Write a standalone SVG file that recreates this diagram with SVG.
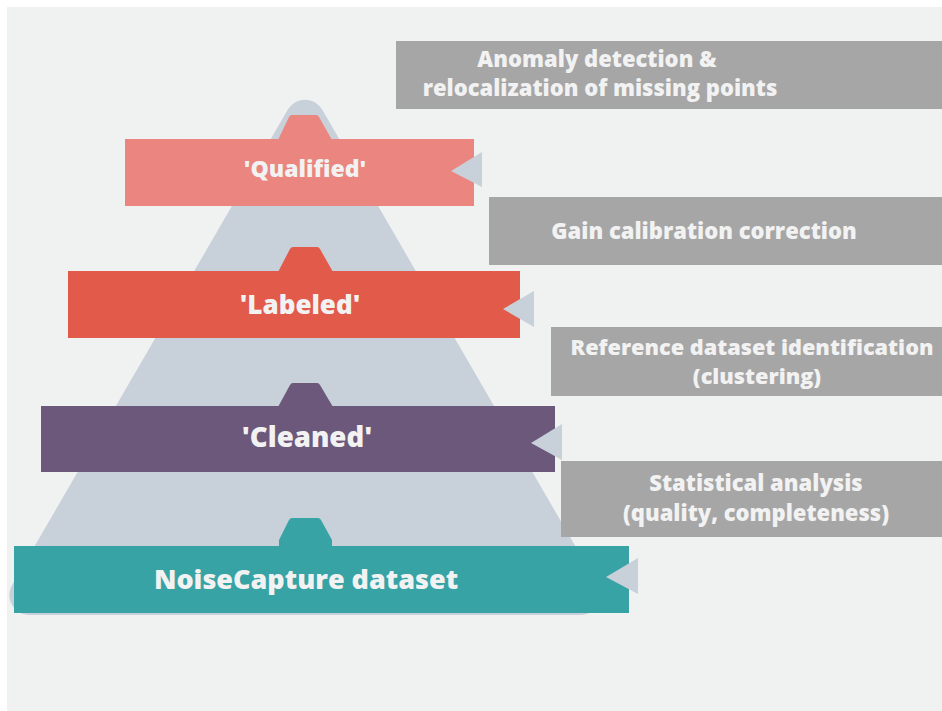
<svg xmlns="http://www.w3.org/2000/svg" width="942" height="711" viewBox="0 0 942 711">
<style>
  .lbl { font-family: "Open Sans", "Liberation Sans", sans-serif; font-weight: 800; fill: #f2f2f2; text-anchor: middle; }
  .step { fill: #a6a6a6; }
  .arr { fill: #c8d0d9; }
  .big { font-size: 27px; }
  .small { font-size: 22px; }
</style>
<rect x="7" y="7" width="935" height="704" fill="#f0f2f1"/>
<g id="pyramid">
  <path d="M287.7,109.8 A20,20 0 0 1 322.3,109.8 L597.9,585 A20,20 0 0 1 580.6,615 L29.4,615 A20,20 0 0 1 12.1,585 Z" fill="#c8d0d9"/>
</g>
<g id="step-anomaly">
  <rect class="step" x="396" y="41" width="546" height="68"/>
  <text class="lbl small" x="597" y="67">Anomaly detection &amp;</text>
  <text class="lbl small" x="600" y="96">relocalization of missing points</text>
</g>
<g id="step-gain">
  <rect class="step" x="489" y="197" width="453" height="68"/>
  <text class="lbl small" x="704" y="239">Gain calibration correction</text>
</g>
<g id="step-reference">
  <rect class="step" x="551" y="327" width="391" height="69"/>
  <text class="lbl" font-size="21.7" x="752" y="355">Reference dataset identification</text>
  <text class="lbl" font-size="21.7" x="757" y="384">(clustering)</text>
</g>
<g id="step-statistical">
  <rect class="step" x="561" y="461" width="381" height="76"/>
  <text class="lbl small" x="756" y="491">Statistical analysis</text>
  <text class="lbl small" x="756" y="521">(quality, completeness)</text>
</g>
<g id="level-qualified">
  <path d="M278,140 L289,117 Q290,115 292,115 L316,115 Q318,115 319,117 L332,140 Z" fill="#ea8580"/>
  <rect x="125" y="139" width="349" height="67" fill="#ea8580"/>
  <text class="lbl" font-size="23" x="305" y="177">'Qualified'</text>
</g>
<g id="level-labeled">
  <path d="M278,272 L290,249 Q291,247 293,247 L317,247 Q319,247 320,249 L333,272 Z" fill="#e25b4a"/>
  <rect x="68" y="271" width="452" height="67" fill="#e25b4a"/>
  <text class="lbl" font-size="26" x="300" y="314">'Labeled'</text>
</g>
<g id="level-cleaned">
  <path d="M278,407 L290,385 Q291,383 293,383 L317,383 Q319,383 320,385 L333,407 Z" fill="#6b587a"/>
  <rect x="41" y="406" width="514" height="66" fill="#6b587a"/>
  <text class="lbl" font-size="27.6" x="307" y="447">'Cleaned'</text>
</g>
<g id="level-noisecapture">
  <path d="M279,547 L279,540 L289,520 Q290,518 292,518 L318,518 Q320,518 321,520 L332,540 L332,547 Z" fill="#38a3a5"/>
  <rect x="14" y="546" width="615" height="67" fill="#38a3a5"/>
  <text class="lbl big" x="306" y="589">NoiseCapture dataset</text>
</g>
<g id="connectors">
  <polygon class="arr" points="451,171 482,152 482,187"/>
  <polygon class="arr" points="503,309 534,291 534,327"/>
  <polygon class="arr" points="531,443 562,424 562,460"/>
  <polygon class="arr" points="606,577 638,558 638,594"/>
</g>
</svg>
